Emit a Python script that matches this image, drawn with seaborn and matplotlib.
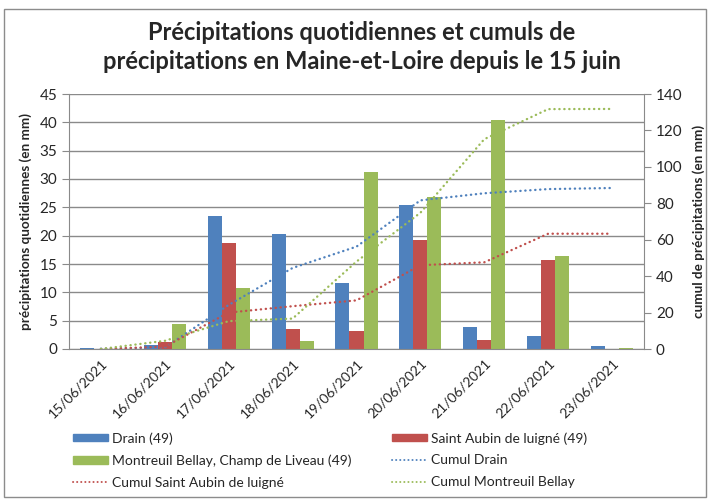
import numpy as np
import pandas as pd
import matplotlib
matplotlib.use("Agg")
import matplotlib.pyplot as plt
import seaborn as sns
from matplotlib.patches import Rectangle, Patch
from matplotlib.lines import Line2D

dates = ["15/06/2021", "16/06/2021", "17/06/2021", "18/06/2021", "19/06/2021",
         "20/06/2021", "21/06/2021", "22/06/2021", "23/06/2021"]
drain = [0.15, 0.7, 23.4, 20.3, 11.7, 25.4, 3.9, 2.3, 0.6]
aubin = [0.0, 1.3, 18.7, 3.5, 3.2, 19.3, 1.6, 15.7, 0.0]
montreuil = [0.0, 4.5, 10.8, 1.4, 31.3, 26.8, 40.4, 16.5, 0.1]
cumul_drain = [0.15, 0.85, 24.2, 44.5, 56.2, 81.6, 85.5, 87.8, 88.4]
cumul_aubin = [0.0, 1.3, 20.0, 23.5, 26.7, 46.0, 47.6, 63.3, 63.3]
cumul_montreuil = [0.0, 4.5, 15.3, 16.7, 48.0, 74.8, 115.2, 131.7, 131.8]

series_names = ["Drain (49)", "Saint Aubin de luigné (49)",
                "Montreuil Bellay, Champ de Liveau (49)"]
cumul_names = ["Cumul Drain", "Cumul Saint Aubin de luigné", "Cumul Montreuil Bellay"]
colors = ["#4F81BD", "#C0504D", "#9BBB59"]

sns.set_style("white")
plt.rcParams['font.family'] = ['Lato', 'DejaVu Sans']

W, H = 710, 501
fig = plt.figure(figsize=(W / 100, H / 100), dpi=100)

# frame around chart
fig.patches.append(Rectangle((4 / W, 1 - 497 / H), 702 / W, 488 / H, transform=fig.transFigure,
                             fill=False, edgecolor="#8c8c8c", lw=1))

left, right, top, bottom = 69, 644, 94, 349
ax = fig.add_axes([left / W, 1 - bottom / H, (right - left) / W, (bottom - top) / H])

df = pd.DataFrame({
    "date": dates * 3,
    "val": drain + aubin + montreuil,
    "serie": [series_names[0]] * 9 + [series_names[1]] * 9 + [series_names[2]] * 9,
})
sns.barplot(data=df, x="date", y="val", hue="serie", hue_order=series_names,
            palette=colors, width=0.66, saturation=1, linewidth=0, ax=ax,
            legend=False, errorbar=None)

ax.set_xlim(-0.5, 8.5)
ax.set_ylim(0, 45)
ax.set_yticks(np.arange(0, 46, 5))
ax.yaxis.grid(True, color="#8a8a8a", lw=1)
ax.set_axisbelow(True)
for s in ["top", "right"]:
    ax.spines[s].set_visible(False)
ax.spines["left"].set_color("#8a8a8a")
ax.spines["bottom"].set_color("#8a8a8a")
ax.set_xticks(np.arange(9))
ax.set_xticklabels(dates, rotation=45, ha="right", rotation_mode="anchor", fontsize=10)
ax.set_xticks(np.arange(-0.5, 9, 1), minor=True)
ax.tick_params(axis="x", which="major", length=0, pad=6)
ax.tick_params(axis="x", which="minor", length=5, color="#8a8a8a", direction="out")
ax.tick_params(axis="y", length=5, color="#8a8a8a", direction="out", labelsize=11, left=True)
ax.set_xlabel("")
ax.set_ylabel("précipitations quotidiennes (en mm)", fontsize=9.7, fontweight="bold", labelpad=5)

ax2 = ax.twinx()
for vals, c in zip([cumul_drain, cumul_aubin, cumul_montreuil], colors):
    sns.lineplot(x=np.arange(9), y=vals, ax=ax2, color=c, lw=1.7,
                 linestyle=(0, (0.1, 2.0)), dash_capstyle="round")
ax2.set_ylim(0, 140)
ax2.set_yticks(np.arange(0, 141, 20))
ax2.set_xlim(-0.5, 8.5)
for s in ["top", "left", "bottom"]:
    ax2.spines[s].set_visible(False)
ax2.spines["right"].set_color("#8a8a8a")
ax2.tick_params(axis="y", length=5, color="#8a8a8a", direction="out", labelsize=11, right=True)
ax2.set_ylabel("cumul de précipitations (en mm)", fontsize=9.7, fontweight="bold", labelpad=7)
ax2.grid(False)

fig.text(0.51, 1 - 47 / H,
         "Précipitations quotidiennes et cumuls de\nprécipitations en Maine-et-Loire depuis le 15 juin",
         ha="center", va="center", fontsize=17, fontweight="bold", linespacing=1.3)

def proxy_line(c):
    return Line2D([], [], color=c, lw=1.4, linestyle=(0, (0.1, 2.0)), dash_capstyle="round")

col1 = [Patch(color=colors[0]), Patch(color=colors[2]), proxy_line(colors[1])]
lab1 = [series_names[0], series_names[2], cumul_names[1]]
col2 = [Patch(color=colors[1]), proxy_line(colors[0]), proxy_line(colors[2])]
lab2 = [series_names[1], cumul_names[0], cumul_names[2]]
kw = dict(frameon=False, borderpad=0, borderaxespad=0, fontsize=10, handlelength=2.5,
          handleheight=0.45, handletextpad=0.3, labelspacing=0.7, loc="upper left")
fig.legend(col1, lab1, bbox_to_anchor=(73 / W, 1 - 432 / H), **kw)
fig.legend(col2, lab2, bbox_to_anchor=(392 / W, 1 - 432 / H), **kw)

fig.savefig("out.png", dpi=100)
